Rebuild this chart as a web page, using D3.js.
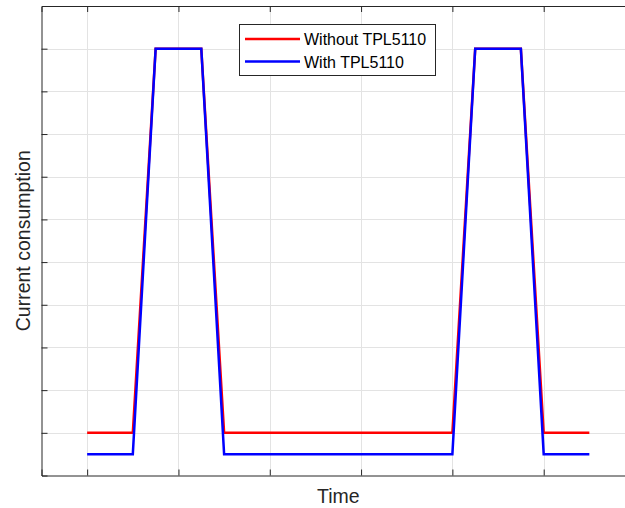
<!DOCTYPE html>
<html>
<head>
<meta charset="utf-8">
<script src="https://d3js.org/d3.v7.min.js"></script>
<style>
  body { margin: 0; background: #fff; }
  svg { display: block; font-family: "Liberation Sans", Arial, Helvetica, sans-serif; }
</style>
</head>
<body>
<svg width="625" height="508"></svg>
<script>
// data
const timeValues = [1, 1.5, 1.75, 2.25, 2.5, 5, 5.25, 5.75, 6, 6.5];
const withoutTPL = [1, 1, 10, 10, 1, 1, 10, 10, 1, 1];
const withTPL = [0.5, 0.5, 10, 10, 0.5, 0.5, 10, 10, 0.5, 0.5];
const xTicks = [1, 2, 3, 4, 5, 6, 7];
const yTicks = [1, 2, 3, 4, 5, 6, 7, 8, 9, 10];
const seriesNames = ['Without TPL5110', 'With TPL5110'];
const seriesColors = ['#ff0000', '#0000ff'];

let svg = d3.select('svg');
const axisColor = '#262626';

let x = d3.scaleLinear().domain([0.5, 7]).range([41.5, 635]);
let y = d3.scaleLinear().domain([0, 11]).range([475.5, 6]);

// grid
let grid = svg.append('g');
grid.selectAll('line.gx')
  .data(xTicks).enter().append('line')
  .attr('x1', d => Math.round(x(d)) + 0.5).attr('x2', d => Math.round(x(d)) + 0.5)
  .attr('y1', y(11)).attr('y2', y(0))
  .attr('stroke', '#e3e3e3').attr('stroke-width', 1);
grid.selectAll('line.gy')
  .data(yTicks).enter().append('line')
  .attr('x1', x(0.5)).attr('x2', x(7))
  .attr('y1', d => Math.round(y(d)) + 0.5).attr('y2', d => Math.round(y(d)) + 0.5)
  .attr('stroke', '#e3e3e3').attr('stroke-width', 1);

// lines
const rows = [withoutTPL, withTPL];
rows.forEach(function (vals, i) {
  let line = d3.line()
    .x((d, j) => x(timeValues[j]))
    .y(d => y(d));
  svg.append('path')
    .datum(vals)
    .attr('d', line)
    .attr('fill', 'none')
    .attr('stroke', seriesColors[i])
    .attr('stroke-width', 2.5)
    .attr('stroke-linejoin', 'miter');
});

// axes (inward ticks, no labels)
let axisB = d3.axisBottom(x).tickValues(xTicks).tickSize(-6).tickFormat('');
let axisT = d3.axisTop(x).tickValues(xTicks).tickSize(-6).tickFormat('');
let axisL = d3.axisLeft(y).tickValues(yTicks).tickSize(-6).tickFormat('');

[[axisB, 'translate(0,' + y(0) + ')'], [axisT, 'translate(0,' + y(11) + ')'], [axisL, 'translate(' + x(0.5) + ',0)']]
  .forEach(function (a) {
    let g = svg.append('g').attr('transform', a[1]).call(a[0]);
    g.select('.domain').attr('stroke', axisColor).attr('stroke-width', 1);
    g.selectAll('.tick line').attr('stroke', axisColor).attr('stroke-width', 1);
  });

// axis labels
svg.append('text')
  .attr('x', x(3.75)).attr('y', 503)
  .attr('text-anchor', 'middle')
  .attr('font-size', 19.5)
  .attr('fill', axisColor)
  .text('Time');

svg.append('text')
  .attr('transform', 'translate(30,' + y(5.5) + ') rotate(-90)')
  .attr('text-anchor', 'middle')
  .attr('font-size', 19.5)
  .attr('fill', axisColor)
  .text('Current consumption');

// legend
let legend = svg.append('g');
legend.append('rect')
  .attr('x', 239.5).attr('y', 24.5)
  .attr('width', 196).attr('height', 51)
  .attr('fill', '#fff').attr('stroke', axisColor).attr('stroke-width', 1);

seriesNames.forEach(function (name, i) {
  let ly = 39 + i * 22.5;
  legend.append('line')
    .attr('x1', 245).attr('x2', 300)
    .attr('y1', ly).attr('y2', ly)
    .attr('stroke', seriesColors[i]).attr('stroke-width', 2.5);
  legend.append('text')
    .attr('x', 304).attr('y', ly + 6)
    .attr('font-size', 16)
    .attr('fill', '#000')
    .text(name);
});
</script>
</body>
</html>
